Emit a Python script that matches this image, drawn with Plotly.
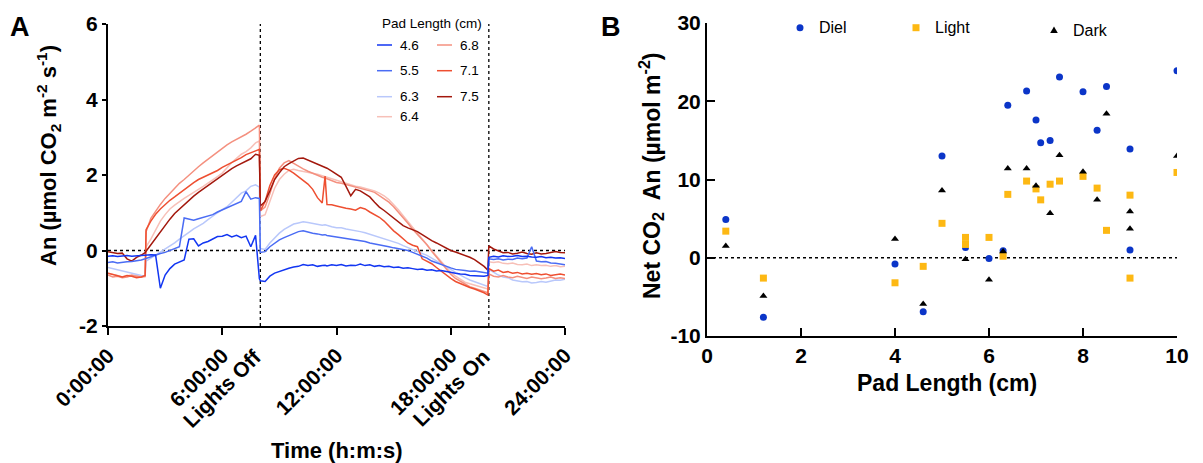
import plotly.graph_objects as go

W, H = 1203, 463

# ---------------- Panel A: diel CO2 uptake traces ----------------
# Sampling times (h) of the gas-exchange record
HOURS = sorted([i * 0.25 for i in range(97)] + [1.95, 7.95, 11.4, 19.95])

LIGHTS_OFF_H = 8.0
LIGHTS_ON_H = 20.0

AN_46 = [-0.15, -0.14, -0.16, -0.15, -0.13, -0.15, -0.14, -0.12, -0.13,
         -0.12, -0.11, -0.12, -1.00, -0.65, -0.48, -0.36, -0.30, -0.25,
         0.30, 0.31, 0.12, 0.20, 0.24, 0.30, 0.37, 0.38, 0.42, 0.36, 0.40,
         0.34, 0.38, 0.10, 0.40, -0.75, -0.80, -0.82, -0.68, -0.60, -0.55,
         -0.50, -0.47, -0.44, -0.42, -0.37, -0.40, -0.38, -0.42, -0.40,
         -0.39, -0.41, -0.38, -0.40, -0.37, -0.41, -0.39, -0.40, -0.36,
         -0.40, -0.38, -0.42, -0.40, -0.43, -0.42, -0.45, -0.44, -0.47,
         -0.46, -0.48, -0.50, -0.49, -0.52, -0.51, -0.54, -0.53, -0.56,
         -0.57, -0.60, -0.62, -0.63, -0.66, -0.67, -0.69, -0.68, -0.66,
         -0.18, -0.15, -0.17, -0.14, -0.16, -0.15, -0.13, -0.16, -0.15,
         -0.17, -0.18, -0.16, -0.19, -0.18, -0.20, -0.19, -0.21]

AN_55 = [-0.32, -0.30, -0.33, -0.31, -0.30, -0.29, -0.28, -0.25, -0.22,
         -0.21, -0.16, -0.12, -0.08, -0.05, 0.00, 0.05, 0.10, 0.86,
         0.82, 0.80, 0.84, 0.88, 0.90, 0.95, 1.02, 1.08, 1.13, 1.20, 1.24,
         1.30, 1.56, 1.36, 1.40, 1.38, -0.05, -0.03, 0.10, 0.20, 0.28,
         0.34, 0.40, 0.45, 0.50, 0.52, 0.48, 0.46, 0.44, 0.41,
         0.42, 0.40, 0.38, 0.36, 0.35, 0.33, 0.30, 0.29, 0.26,
         0.24, 0.20, 0.18, 0.15, 0.12, 0.10, 0.07, 0.05, 0.02,
         0.00, -0.05, -0.10, -0.14, -0.20, -0.28, -0.33, -0.38, -0.43,
         -0.46, -0.50, -0.51, -0.53, -0.55, -0.54, -0.56, -0.58, -0.60,
         -0.22, -0.24, -0.22, -0.25, -0.23, -0.24, -0.20, -0.22, -0.20,
         0.10, -0.28, -0.30, -0.29, -0.33, -0.34, -0.36, -0.38]

AN_63 = [-0.45, -0.48, -0.52, -0.55, -0.58, -0.62, -0.65, -0.66, -0.68,
         -0.28, -0.20, -0.12, -0.06, 0.02, 0.10, 0.20, 0.30, 0.40,
         0.48, 0.57, 0.64, 0.72, 0.82, 0.92, 1.00, 1.08, 1.16, 1.28, 1.40,
         1.52, 1.58, 1.70, 1.74, 1.68, 0.05, 0.03, 0.20, 0.33, 0.46,
         0.56, 0.64, 0.70, 0.73, 0.76, 0.74, 0.72, 0.70, 0.67,
         0.68, 0.66, 0.63, 0.60, 0.60, 0.57, 0.55, 0.54, 0.50,
         0.47, 0.43, 0.40, 0.36, 0.32, 0.28, 0.24, 0.19, 0.13,
         0.08, 0.02, -0.03, -0.08, -0.13, -0.20, -0.27, -0.35, -0.42,
         -0.50, -0.58, -0.66, -0.72, -0.78, -0.83, -0.88, -0.92, -0.95,
         -0.50, -0.58, -0.65, -0.70, -0.72, -0.78, -0.80, -0.83, -0.82,
         -0.86, -0.85, -0.82, -0.84, -0.80, -0.78, -0.79, -0.76]

AN_64 = [-0.60, -0.62, -0.66, -0.70, -0.68, -0.64, -0.66, -0.70, -0.68,
         0.10, 0.30, 0.55, 0.78, 0.95, 1.10, 1.20, 1.30, 1.38,
         1.46, 1.55, 1.62, 1.70, 1.78, 1.86, 1.96, 2.05, 2.20, 2.33, 2.44,
         2.55, 2.62, 2.72, 2.85, 2.90, 0.90, 0.95, 1.30, 1.65, 1.88,
         2.02, 2.12, 2.15, 2.12, 2.10, 2.08, 2.05, 2.02, 1.98,
         1.96, 1.94, 1.90, 1.86, 1.82, 1.76, 1.73, 1.70, 1.68,
         1.65, 1.62, 1.58, 1.52, 1.45, 1.35, 1.22, 1.08, 0.92,
         0.76, 0.60, 0.45, 0.30, 0.15, 0.00, -0.15, -0.30, -0.45,
         -0.58, -0.68, -0.76, -0.84, -0.88, -0.92, -0.96, -1.00, -1.02,
         -0.30, -0.32, -0.30, -0.34, -0.35, -0.33, -0.37, -0.38, -0.36,
         -0.40, -0.38, -0.40, -0.39, -0.42, -0.40, -0.43, -0.42]

AN_68 = [-0.65, -0.70, -0.68, -0.72, -0.70, -0.66, -0.68, -0.70, -0.69,
         0.50, 0.85, 1.05, 1.22, 1.38, 1.52, 1.65, 1.78, 1.88,
         2.00, 2.12, 2.22, 2.32, 2.42, 2.52, 2.62, 2.72, 2.80, 2.88, 2.94,
         3.00, 3.08, 3.16, 3.25, 3.32, 1.05, 1.15, 1.50, 1.90, 2.18,
         2.32, 2.38, 2.30, 2.24, 2.16, 2.10, 2.04, 2.00, 1.94,
         1.92, 1.90, 1.86, 1.80, 1.78, 1.75, 1.72, 1.68, 1.66,
         1.62, 1.58, 1.54, 1.46, 1.38, 1.28, 1.16, 1.02, 0.88,
         0.72, 0.56, 0.42, 0.30, 0.15, -0.02, -0.18, -0.34, -0.50,
         -0.63, -0.74, -0.82, -0.90, -0.96, -1.00, -1.05, -1.08, -1.12,
         -0.62, -0.68, -0.70, -0.66, -0.70, -0.72, -0.68, -0.72, -0.74,
         -0.70, -0.72, -0.75, -0.73, -0.70, -0.74, -0.72, -0.74]

AN_71 = [-0.60, -0.63, -0.67, -0.70, -0.66, -0.68, -0.72, -0.70, -0.66,
         0.55, 0.78, 0.96, 1.10, 1.22, 1.33, 1.42, 1.52, 1.62,
         1.72, 1.80, 1.88, 1.94, 1.98, 2.04, 2.12, 2.20, 2.26, 2.32, 2.40,
         2.46, 2.54, 2.58, 2.64, 2.68, 1.05, 1.30, 1.72, 2.00, 2.14,
         2.18, 2.13, 2.05, 1.95, 1.86, 1.76, 1.62, 1.40, 1.26,
         1.97, 1.22, 1.21, 1.18, 1.14, 1.12, 1.10, 1.07, 1.14,
         1.10, 1.02, 0.95, 0.88, 0.78, 0.64, 0.52, 0.42, 0.32,
         0.20, 0.14, 0.10, -0.22, -0.28, -0.35, -0.45, -0.55, -0.65,
         -0.74, -0.82, -0.88, -0.94, -0.98, -1.02, -1.06, -1.12, -1.18,
         -0.48, -0.55, -0.52, -0.58, -0.56, -0.60, -0.58, -0.62, -0.60,
         -0.63, -0.61, -0.64, -0.62, -0.66, -0.64, -0.62, -0.65]

AN_75 = [-0.03, -0.06, -0.08, -0.07, -0.22, -0.28, -0.18, -0.12, -0.06,
         -0.02, 0.15, 0.35, 0.52, 0.67, 0.83, 0.98, 1.10, 1.22,
         1.33, 1.44, 1.54, 1.63, 1.73, 1.83, 1.92, 2.00, 2.09, 2.17, 2.24,
         2.30, 2.37, 2.43, 2.55, 2.52, 1.18, 1.30, 1.58, 1.88, 2.06,
         2.22, 2.30, 2.36, 2.44, 2.45, 2.40, 2.34, 2.30, 2.25,
         2.22, 2.18, 2.10, 2.02, 1.94, 1.70, 1.45, 1.62, 1.58,
         1.50, 1.42, 1.28, 1.15, 1.06, 0.96, 0.86, 0.76, 0.66,
         0.60, 0.56, 0.50, 0.42, 0.33, 0.26, 0.20, 0.13, 0.06,
         0.00, -0.04, -0.08, -0.13, -0.18, -0.24, -0.32, -0.42, -0.52,
         0.12, 0.04, -0.02, -0.06, -0.05, -0.09, -0.07, -0.04, -0.08,
         -0.10, -0.06, -0.09, -0.08, -0.06, -0.03, -0.05, -0.06]

PAD_SERIES = [
    ("4.6", AN_46, "#1236F2"),
    ("5.5", AN_55, "#4A6CF4"),
    ("6.3", AN_63, "#B9C8FB"),
    ("6.4", AN_64, "#F7C0B8"),
    ("6.8", AN_68, "#F4907F"),
    ("7.1", AN_71, "#EE4F31"),
    ("7.5", AN_75, "#A3180D"),
]
DRAW_ORDER = ["6.4", "6.3", "6.8", "7.1", "7.5", "5.5", "4.6"]

TIME_TICKS = [0, 6, 12, 18, 24]
TIME_LABELS = ["0:00:00", "6:00:00", "12:00:00", "18:00:00", "24:00:00"]
AN_TICKS = [-2, 0, 2, 4, 6]
AN_LABELS = ["-2", "0", "2", "4", "6"]

# ---------------- Panel B: net CO2 uptake vs pad length ----------------
PAD_DIEL = [0.4, 1.2, 4.0, 4.6, 5.0, 5.5, 6.0, 6.3, 6.4, 6.8, 7.0, 7.1, 7.3,
            7.5, 8.0, 8.3, 8.5, 9.0, 9.0, 10.0]
NET_DIEL = [4.9, -7.6, -0.8, -6.9, 13.0, 1.3, -0.1, 0.9, 19.5, 21.3, 17.6,
            14.7, 15.0, 23.1, 21.2, 16.3, 21.9, 13.9, 1.0, 23.9]

PAD_LIGHT = [0.4, 1.2, 4.0, 4.6, 5.0, 5.5, 5.5, 6.0, 6.3, 6.4, 6.8, 7.0, 7.1,
             7.3, 7.5, 8.0, 8.3, 8.5, 9.0, 9.0, 10.0]
NET_LIGHT = [3.4, -2.6, -3.2, -1.1, 4.4, 2.6, 1.7, 2.6, 0.2, 8.1, 9.8, 8.8,
             7.4, 9.4, 9.8, 10.4, 8.9, 3.5, 8.0, -2.6, 10.9]

PAD_DARK = [0.4, 1.2, 4.0, 4.6, 5.0, 5.5, 6.0, 6.3, 6.4, 6.8, 7.0, 7.3, 7.5,
            8.0, 8.3, 8.5, 9.0, 9.0, 10.0]
NET_DARK = [1.5, -4.9, 2.4, -5.9, 8.6, -0.2, -2.8, 0.8, 11.4, 11.4, 9.2, 5.7,
            13.1, 11.0, 7.4, 18.4, 5.9, 3.7, 13.0]

PAD_TICKS = [0, 2, 4, 6, 8, 10]
NET_TICKS = [-10, 0, 10, 20, 30]
NET_LABELS = ["-10", "0", "10", "20", "30"]

DIEL_COLOR = "#0B35C8"
LIGHT_COLOR = "#FDB813"
DARK_COLOR = "#000000"

FONT = "Liberation Sans, Arial, Helvetica, sans-serif"


def fx(px):
    return px / W


def fy(py):
    return 1 - py / H


fig = go.Figure()

series_by_name = {name: (vals, color) for name, vals, color in PAD_SERIES}
for name in DRAW_ORDER:
    vals, color = series_by_name[name]
    fig.add_trace(go.Scatter(
        x=HOURS, y=vals, mode="lines", name=name,
        line=dict(color=color, width=1.5),
        xaxis="x", yaxis="y", showlegend=False, hoverinfo="skip",
    ))

fig.add_trace(go.Scatter(
    x=PAD_DIEL, y=NET_DIEL, mode="markers", name="Diel",
    marker=dict(symbol="circle", size=7, color=DIEL_COLOR),
    xaxis="x2", yaxis="y2", showlegend=False,
))
fig.add_trace(go.Scatter(
    x=PAD_LIGHT, y=NET_LIGHT, mode="markers", name="Light",
    marker=dict(symbol="square", size=7, color=LIGHT_COLOR),
    xaxis="x2", yaxis="y2", showlegend=False,
))
fig.add_trace(go.Scatter(
    x=PAD_DARK, y=NET_DARK, mode="markers", name="Dark",
    marker=dict(symbol="triangle-up", size=7, color=DARK_COLOR),
    xaxis="x2", yaxis="y2", showlegend=False,
))

axis_common = dict(
    showline=True, linecolor="black", linewidth=2, mirror=False,
    showgrid=False, zeroline=False, tickcolor="black", tickwidth=2,
    automargin=False,
)

shapes = []
dotted = dict(color="black", width=1.3, dash="dot")
for t in (LIGHTS_OFF_H, LIGHTS_ON_H):
    shapes.append(dict(type="line", xref="x", yref="y domain", x0=t, x1=t,
                       y0=0, y1=1, line=dotted, layer="below"))
shapes.append(dict(type="line", xref="x domain", yref="y", x0=0, x1=1,
                   y0=0, y1=0, line=dotted, layer="below"))
shapes.append(dict(type="line", xref="x2 domain", yref="y2", x0=0, x1=1,
                   y0=0, y1=0, line=dotted, layer="below"))

annotations = []


def text(x, y, s, size, bold=False, xanchor="center", yanchor="middle",
         angle=0, color="black"):
    annotations.append(dict(
        x=fx(x), y=fy(y), xref="paper", yref="paper", text=s,
        showarrow=False, xanchor=xanchor, yanchor=yanchor, textangle=angle,
        font=dict(family=FONT, size=size, color=color,
                  weight="bold" if bold else "normal"),
    ))


# Panel A legend
text(380, 24, "Pad Length (cm)", 13.5, xanchor="left")
legend_rows = {"4.6": (0, 45), "5.5": (0, 70.7), "6.3": (0, 96.7),
               "6.4": (0, 116.7), "6.8": (1, 45), "7.1": (1, 70.7),
               "7.5": (1, 96.7)}
for name, vals, color in PAD_SERIES:
    col, ry = legend_rows[name]
    lx0 = 377 if col == 0 else 437
    shapes.append(dict(type="line", xref="paper", yref="paper",
                       x0=fx(lx0), x1=fx(lx0 + 15), y0=fy(ry), y1=fy(ry),
                       line=dict(color=color, width=1.5)))
    text(lx0 + 21, ry, name, 13.5, xanchor="left")

# Panel B legend
shapes.append(dict(type="circle", xref="paper", yref="paper",
                   xsizemode="pixel", ysizemode="pixel",
                   xanchor=fx(800), yanchor=fy(27.7),
                   x0=-3.5, x1=3.5, y0=-3.5, y1=3.5,
                   fillcolor=DIEL_COLOR, line=dict(width=0)))
shapes.append(dict(type="rect", xref="paper", yref="paper",
                   xsizemode="pixel", ysizemode="pixel",
                   xanchor=fx(916), yanchor=fy(27.7),
                   x0=-3.5, x1=3.5, y0=-3.5, y1=3.5,
                   fillcolor=LIGHT_COLOR, line=dict(width=0)))
shapes.append(dict(type="path", xref="paper", yref="paper",
                   xsizemode="pixel", ysizemode="pixel",
                   xanchor=fx(1054), yanchor=fy(30),
                   path="M -3.8 -3 L 3.8 -3 L 0 3.5 Z",
                   fillcolor=DARK_COLOR, line=dict(width=0)))
text(817, 27, "Diel", 16, xanchor="left")
text(933, 27, "Light", 16, xanchor="left")
text(1071, 30, "Dark", 16, xanchor="left")

# Axis titles and panel letters
text(48, 156, "An (µmol CO<sub>2</sub> m<sup>-2</sup> s<sup>-1</sup>)", 22,
     bold=True, angle=-90)
text(337, 450, "Time (h:m:s)", 22, bold=True)
text(651, 176, "Net CO<sub>2</sub>  An (µmol m<sup>-2</sup>)", 23,
     bold=True, angle=-90)
text(947, 383, "Pad Length (cm)", 23, bold=True)
text(20, 27, "A", 27, bold=True)
text(611, 27, "B", 27, bold=True)

# Light-period markers under the time axis
text(268, 342, "Lights Off", 21, bold=True, xanchor="right",
     yanchor="top", angle=-45)
text(497, 342, "Lights On", 21, bold=True, xanchor="right",
     yanchor="top", angle=-45)

tick_font = dict(family=FONT, size=21, color="black", weight="bold")

fig.update_layout(
    template="none",
    width=W, height=H,
    margin=dict(l=0, r=0, t=0, b=0, autoexpand=False),
    paper_bgcolor="white", plot_bgcolor="white",
    showlegend=False,
    font=dict(family=FONT, color="black"),
    xaxis=dict(
        domain=[fx(108), fx(565)], range=[0, 24], anchor="y",
        tickmode="array", tickvals=TIME_TICKS, ticktext=TIME_LABELS,
        tickangle=-45, ticks="outside", ticklen=7,
        tickfont=dict(family=FONT, size=21, color="black", weight="bold"),
        **axis_common,
    ),
    yaxis=dict(
        domain=[fy(326), fy(24)], range=[-2, 6], anchor="x",
        tickmode="array", tickvals=AN_TICKS, ticktext=AN_LABELS,
        ticks="outside", ticklen=4, tickfont=tick_font, **axis_common,
    ),
    xaxis2=dict(
        domain=[fx(707), fx(1177)], range=[0, 10], anchor="y2",
        tickmode="array", tickvals=PAD_TICKS, ticks="inside", ticklen=8,
        tickfont=tick_font, **axis_common,
    ),
    yaxis2=dict(
        domain=[fy(336), fy(23)], range=[-10, 30], anchor="x2",
        tickmode="array", tickvals=NET_TICKS, ticktext=NET_LABELS,
        ticks="inside", ticklen=8, tickfont=tick_font, **axis_common,
    ),
    shapes=shapes,
    annotations=annotations,
)

fig.write_html("out.html")
